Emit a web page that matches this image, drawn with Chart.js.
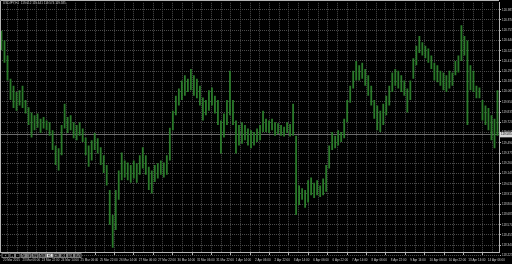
<!DOCTYPE html>
<html>
<head>
<meta charset="utf-8">
<script src="https://cdn.jsdelivr.net/npm/chart.js@4"></script>
<style>
  html, body { margin: 0; padding: 0; background: #000; }
</style>
</head>
<body>
<canvas id="chart" width="512" height="264"></canvas>
<script>
// USDJPY H1, 20 Mar - 14 Apr 2015 (each entry ~2.5 hours)
const symbol = "USDJPY,H1";
const lastOHLC = [119.612, 119.641, 119.574, 119.585];
const bid = 119.585;

const highs = [
  120.75, 120.64, 120.47, 120.21, 120.13, 120.06, 120.08, 120.13, 119.97, 119.89,
  119.83, 119.80, 119.82, 119.76, 119.78, 119.74, 119.72, 119.63, 119.46, 119.43,
  119.69, 119.93, 119.78, 119.80, 119.72, 119.69, 119.72, 119.65, 119.55, 119.46,
  119.52, 119.60, 119.54, 119.44, 119.35, 119.24, 118.96, 118.68, 118.96, 119.18,
  119.38, 119.29, 119.27, 119.24, 119.29, 119.26, 119.35, 119.44, 119.35, 119.22,
  119.18, 119.24, 119.26, 119.29, 119.27, 119.35, 119.66, 119.85, 120.02, 120.10,
  120.19, 120.25, 120.21, 120.32, 120.25, 120.21, 120.13, 120.00, 119.97, 120.08,
  120.11, 120.02, 119.97, 119.74, 119.82, 119.97, 120.30, 119.97, 119.74, 119.69,
  119.72, 119.69, 119.65, 119.63, 119.61, 119.65, 119.69, 119.85, 119.76, 119.74,
  119.76, 119.72, 119.71, 119.69, 119.67, 119.72, 119.70, 119.93, 119.57, 119.01,
  118.98, 118.96, 119.07, 119.10, 119.04, 119.07, 119.01, 119.09, 119.24, 119.46,
  119.61, 119.57, 119.63, 119.61, 119.76, 119.97, 120.13, 120.30, 120.41, 120.36,
  120.39, 120.32, 120.25, 120.13, 119.97, 119.91, 119.85, 119.93, 120.02, 120.13,
  120.28, 120.32, 120.30, 120.25, 120.19, 120.10, 120.19, 120.44, 120.58, 120.69,
  120.62, 120.58, 120.55, 120.47, 120.39, 120.36, 120.30, 120.28, 120.25, 120.30,
  120.28, 120.41, 120.47, 120.81, 120.69, 120.64, 120.36, 120.30, 120.13, 120.11,
  119.97, 119.91, 119.88, 119.80, 119.76, 120.08
];

const lows = [
  120.53, 120.39, 120.19, 119.97, 119.88, 119.85, 119.91, 119.88, 119.82, 119.69,
  119.55, 119.63, 119.66, 119.60, 119.65, 119.63, 119.57, 119.41, 119.24, 119.18,
  119.35, 119.65, 119.60, 119.63, 119.54, 119.52, 119.57, 119.50, 119.35, 119.22,
  119.29, 119.41, 119.37, 119.24, 119.15, 119.01, 118.57, 118.31, 118.51, 118.85,
  119.07, 119.10, 119.07, 119.04, 119.09, 119.04, 119.13, 119.20, 119.13, 118.96,
  118.92, 119.05, 119.09, 119.13, 119.10, 119.13, 119.29, 119.63, 119.80, 119.91,
  119.97, 120.02, 120.06, 120.08, 120.02, 119.99, 119.91, 119.74, 119.80, 119.85,
  119.91, 119.82, 119.69, 119.37, 119.55, 119.69, 119.80, 119.69, 119.37, 119.46,
  119.48, 119.52, 119.46, 119.43, 119.46, 119.50, 119.52, 119.61, 119.61, 119.60,
  119.63, 119.57, 119.59, 119.57, 119.56, 119.60, 119.56, 119.57, 118.68, 118.79,
  118.85, 118.76, 118.82, 118.90, 118.87, 118.90, 118.88, 118.90, 118.94, 119.20,
  119.41, 119.43, 119.46, 119.50, 119.54, 119.72, 119.94, 120.10, 120.19, 120.19,
  120.21, 120.13, 120.02, 119.91, 119.76, 119.63, 119.61, 119.69, 119.80, 119.91,
  120.06, 120.13, 120.10, 120.06, 120.02, 119.83, 119.97, 120.21, 120.36, 120.50,
  120.47, 120.44, 120.39, 120.32, 120.19, 120.17, 120.13, 120.08, 120.06, 120.10,
  120.13, 120.25, 120.28, 120.41, 120.47, 119.69, 120.08, 120.06, 119.99, 119.99,
  119.74, 119.69, 119.63, 119.52, 119.43, 119.57
];

const priceTicks = [
  120.985, 120.870, 120.755, 120.640, 120.525, 120.410, 120.295, 120.180, 120.065,
  119.950, 119.835, 119.720, 119.605, 119.490, 119.375, 119.260, 119.145, 119.030,
  118.915, 118.800, 118.685, 118.570, 118.455, 118.340, 118.225
];

const timeLabels = [
  "20 Mar 2015", "23 Mar 06:00", "23 Mar 22:00", "24 Mar 14:00", "25 Mar 06:00",
  "25 Mar 22:00", "26 Mar 14:00", "27 Mar 06:00", "27 Mar 22:00", "30 Mar 14:00",
  "31 Mar 06:00", "31 Mar 22:00", "1 Apr 14:00", "2 Apr 06:00", "2 Apr 22:00",
  "3 Apr 14:00", "6 Apr 06:00", "6 Apr 22:00", "7 Apr 14:00", "8 Apr 06:00",
  "8 Apr 22:00", "9 Apr 14:00", "10 Apr 06:00", "10 Apr 22:00", "13 Apr 14:00",
  "14 Apr 06:00"
];

const periods = ["\u00ab", "+", "\u2212", "M1", "M5", "M15", "M30", "H1", "H4", "D1", "W1", "MN"];
const activePeriod = "H1";

const FONT = "'Liberation Sans', Arial, sans-serif";
const TEXT = "#c8c8c8";
const GRID = "#4a4a4a";
const FRAME = "#b4b4b4";

// one date label every 16 hours = 6.45 entries, grid every half of that
const labelEvery = 6.45;
const firstLabelAt = 0.5;

const mt4Decor = {
  id: "mt4Decor",
  beforeDraw(chart) {
    const ctx = chart.ctx;
    ctx.save();
    ctx.fillStyle = "#000";
    ctx.fillRect(0, 0, chart.width, chart.height);
    ctx.restore();
  },
  beforeDatasetsDraw(chart) {
    const {ctx, chartArea: a, scales: {y}} = chart;
    const py = Math.round(y.getPixelForValue(bid)) + 0.5;
    ctx.save();
    ctx.strokeStyle = "#6a6a6a";
    ctx.lineWidth = 1;
    ctx.beginPath();
    ctx.moveTo(a.left, py);
    ctx.lineTo(a.right, py);
    ctx.stroke();
    ctx.restore();
  },
  afterDraw(chart) {
    const {ctx, chartArea: a, scales: {y}} = chart;
    ctx.save();
    // frame
    ctx.strokeStyle = FRAME;
    ctx.lineWidth = 1;
    ctx.beginPath();
    ctx.moveTo(0.5, a.bottom);
    ctx.lineTo(0.5, 0.5);
    ctx.lineTo(a.right, 0.5);
    ctx.stroke();

    // bid label on the price scale
    const py = y.getPixelForValue(bid);
    ctx.fillStyle = "#d8d8d8";
    ctx.fillRect(a.right + 1, py - 2.5, chart.width - a.right - 1, 5.5);
    ctx.fillStyle = "#000";
    ctx.font = "3px " + FONT;
    ctx.textBaseline = "middle";
    ctx.textAlign = "left";
    ctx.fillText(bid.toFixed(3), a.right + 2, py + 0.3);

    // symbol and last bar
    ctx.fillStyle = TEXT;
    ctx.textBaseline = "top";
    ctx.fillText(symbol + "  " + lastOHLC.map(v => v.toFixed(3)).join(" "), 3, 2);

    // period toolbar
    const edges = [1.5, 9.5, 15, 20.5, 26, 31.5, 38.5, 46, 53.5, 60, 67, 74, 81.5];
    const top = 253, h = 5;
    ctx.textAlign = "center";
    ctx.textBaseline = "middle";
    periods.forEach((p, i) => {
      const x0 = edges[i], x1 = edges[i + 1];
      const on = p === activePeriod;
      ctx.fillStyle = on ? "#e6e6e6" : "#000";
      ctx.fillRect(x0, top, x1 - x0, h);
      ctx.strokeStyle = "#7a7a7a";
      ctx.strokeRect(x0 + 0.5, top + 0.5, x1 - x0 - 1, h - 1);
      ctx.fillStyle = on ? "#000" : TEXT;
      ctx.fillText(p, (x0 + x1) / 2, top + h / 2 + 0.3);
    });
    ctx.restore();
  }
};

new Chart(document.getElementById("chart"), {
  type: "bar",
  data: {
    datasets: [{
      data: highs.map((h, i) => ({x: i, y: [lows[i], h]})),
      backgroundColor: "#2a7a2a",
      borderWidth: 0,
      barPercentage: 1,
      categoryPercentage: 0.6
    }]
  },
  options: {
    responsive: false,
    animation: false,
    events: [],
    layout: {padding: {top: 1, left: 0, right: 0, bottom: 0}},
    plugins: {legend: {display: false}, tooltip: {enabled: false}},
    scales: {
      x: {
        type: "linear",
        min: -0.5,
        max: highs.length - 0.5,
        offset: false,
        afterBuildTicks: s => {
          const t = [];
          for (let j = 0; j < timeLabels.length * 2; j++) {
            const v = firstLabelAt + j * labelEvery / 2;
            if (v <= s.max) t.push({value: v});
          }
          s.ticks = t;
        },
        afterFit: s => { s.height = 12; },
        grid: {
          color: GRID,
          lineWidth: 1,
          drawTicks: true,
          tickLength: 3,
          tickColor: c => (c.index % 2 ? "rgba(0,0,0,0)" : FRAME)
        },
        border: {display: true, color: FRAME, dash: [1, 1]},
        ticks: {
          autoSkip: false,
          maxRotation: 0,
          minRotation: 0,
          align: "start",
          padding: 3,
          color: TEXT,
          font: {family: FONT, size: 3},
          callback: (v, i) => (i % 2 ? "" : timeLabels[i / 2])
        }
      },
      y: {
        position: "right",
        min: 118.263,
        max: 121.063,
        afterBuildTicks: s => {
          s.ticks = priceTicks.slice().sort((p, q) => p - q).map(v => ({value: v}));
        },
        afterFit: s => { s.width = 13; },
        grid: {
          color: GRID,
          lineWidth: 1,
          drawTicks: true,
          tickLength: 2,
          tickColor: FRAME
        },
        border: {display: true, color: FRAME, dash: [1, 1]},
        ticks: {
          autoSkip: false,
          padding: 1,
          color: TEXT,
          font: {family: FONT, size: 3},
          callback: v => v.toFixed(3)
        }
      }
    }
  },
  plugins: [mt4Decor]
});
</script>
</body>
</html>
